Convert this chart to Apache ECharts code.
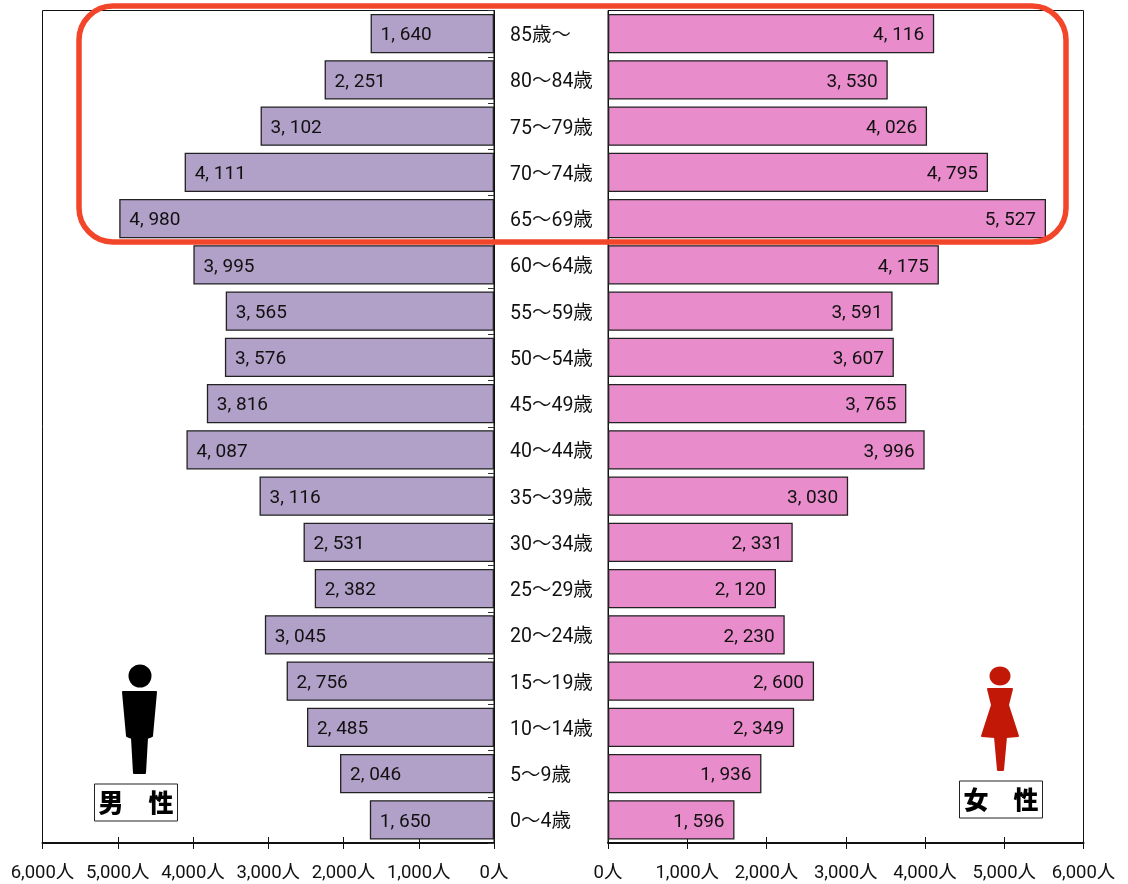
<!DOCTYPE html>
<html lang="ja">
<head>
<meta charset="utf-8">
<title>年齢別人口</title>
<style>html,body{margin:0;padding:0;background:#fff}#chart{width:1128px;height:884px}</style>
<script src="https://cdn.jsdelivr.net/npm/echarts@6/dist/echarts.min.js"></script>
</head>
<body>
<div id="chart"></div>
<script>
// 年齢階級(上から高齢順)
const ageGroups = ['85歳～','80～84歳','75～79歳','70～74歳','65～69歳','60～64歳','55～59歳','50～54歳','45～49歳','40～44歳','35～39歳','30～34歳','25～29歳','20～24歳','15～19歳','10～14歳','5～9歳','0～4歳'];
const male = [1640,2251,3102,4111,4980,3995,3565,3576,3816,4087,3116,2531,2382,3045,2756,2485,2046,1650];
const female = [4116,3530,4026,4795,5527,4175,3591,3607,3765,3996,3030,2331,2120,2230,2600,2349,1936,1596];
const axisMax = 6000;
const axisStep = 1000;

const textFont = 'Roboto,"Noto Sans CJK JP",sans-serif';
const ink = '#111';
const withComma = v => String(v).replace(/\B(?=(\d{3})+$)/g, ', ');
const axisLabel = v => String(v).replace(/\B(?=(\d{3})+$)/g, ',') + '人';

function valueAxes(gridIndex, inverse) {
  const base = {
    type: 'value', gridIndex, inverse, min: 0, max: axisMax, interval: axisStep,
    position: 'bottom', splitLine: {show: false}
  };
  return [
    {...base,
      axisLine: {show: true, lineStyle: {color: ink, width: 2}},
      axisTick: {show: true, length: 6, lineStyle: {color: ink, width: 1}},
      axisLabel: {show: true, margin: 21, color: ink, fontFamily: textFont, fontSize: 18.5, formatter: axisLabel}},
    {...base,
      axisLine: {show: false},
      axisTick: {show: true, inside: true, length: 6, lineStyle: {color: ink, width: 1}},
      axisLabel: {show: false}}
  ];
}

function barSeries(name, values, axisOffset, color, labelPos) {
  return {
    name, type: 'bar', data: values,
    xAxisIndex: axisOffset, yAxisIndex: axisOffset === 0 ? 0 : 1,
    barWidth: '85%',
    itemStyle: {color, borderColor: '#222', borderWidth: 1.3},
    label: {
      show: true, position: labelPos, distance: 10, offset: [0, 2], color: ink,
      fontFamily: textFont, fontSize: 19,
      formatter: p => withComma(p.value)
    },
    silent: true, animation: false
  };
}

// 人型アイコンと見出し
function silhouette(points, fill) {
  return {type: 'polygon', z: 10, shape: {points},
          style: {fill, stroke: fill, lineWidth: 2, lineJoin: 'round'}};
}

function badge(x, y, w, h, text) {
  return {
    type: 'group', children: [
      {type: 'rect', shape: {x, y, width: w, height: h},
       style: {fill: '#fff', stroke: '#222', lineWidth: 1}},
      {type: 'text', x: x + w / 2, y: y + h / 2,
       style: {text, fill: '#000', align: 'center', verticalAlign: 'middle',
               font: '900 25px "Noto Sans CJK JP"'}}
    ]
  };
}

const chart = echarts.init(document.getElementById('chart'), null, {renderer: 'canvas'});
chart.setOption({
  animation: false,
  backgroundColor: '#fff',
  grid: [
    {left: 42.5, width: 451.5, top: 10.5, height: 832.5, show: true, borderColor: '#111', borderWidth: 1},
    {left: 608, width: 475.5, top: 10.5, height: 832.5, show: true, borderColor: '#111', borderWidth: 1}
  ],
  xAxis: [...valueAxes(0, true), ...valueAxes(1, false)],
  yAxis: [
    {type: 'category', gridIndex: 0, data: ageGroups, inverse: true, position: 'right',
     axisLine: {show: true, lineStyle: {color: ink, width: 1}},
     axisTick: {show: true, inside: true, length: 6, lineStyle: {color: '#333'}},
     axisLabel: {show: true, interval: 0, margin: 16, align: 'left', color: ink,
                 formatter: v => `{age|${v}}`,
                 rich: {age: {fontFamily: textFont, fontSize: 19.5, color: ink, padding: [5, 0, 0, 0]}}}},
    {type: 'category', gridIndex: 1, data: ageGroups, inverse: true, position: 'left',
     axisLine: {show: true, lineStyle: {color: ink, width: 1}},
     axisTick: {show: false}, axisLabel: {show: false}}
  ],
  series: [
    barSeries('男性', male, 0, '#b1a0c7', 'insideLeft'),
    barSeries('女性', female, 2, '#e98ccb', 'insideRight')
  ],
  graphic: [
    // 高齢者層を囲む枠
    {type: 'rect', z: 20, shape: {x: 79, y: 6, width: 987, height: 236, r: 34},
     style: {fill: 'transparent', stroke: '#f2452a', lineWidth: 5.5}},
    // 男性
    {type: 'circle', z: 10, shape: {cx: 140, cy: 676, r: 11.5}, style: {fill: '#000'}},
    silhouette([[123,692],[156,692],[152,736],[147,738],[145,773],[134,773],[132,738],[127,736]], '#000'),
    badge(94.5, 784, 83, 37, '男\u3000性'),
    // 女性
    {type: 'ellipse', z: 10, shape: {cx: 1000, cy: 676, rx: 10.5, ry: 9.5}, style: {fill: '#c21807'}},
    silhouette([[988,689],[1012,689],[1008,705],[1018,736],[1006,737],[1003,770],[998,770],[995,737],[982,736],[992,705]], '#c21807'),
    badge(959.5, 781, 83, 37, '女\u3000性')
  ]
});
</script>
</body>
</html>
